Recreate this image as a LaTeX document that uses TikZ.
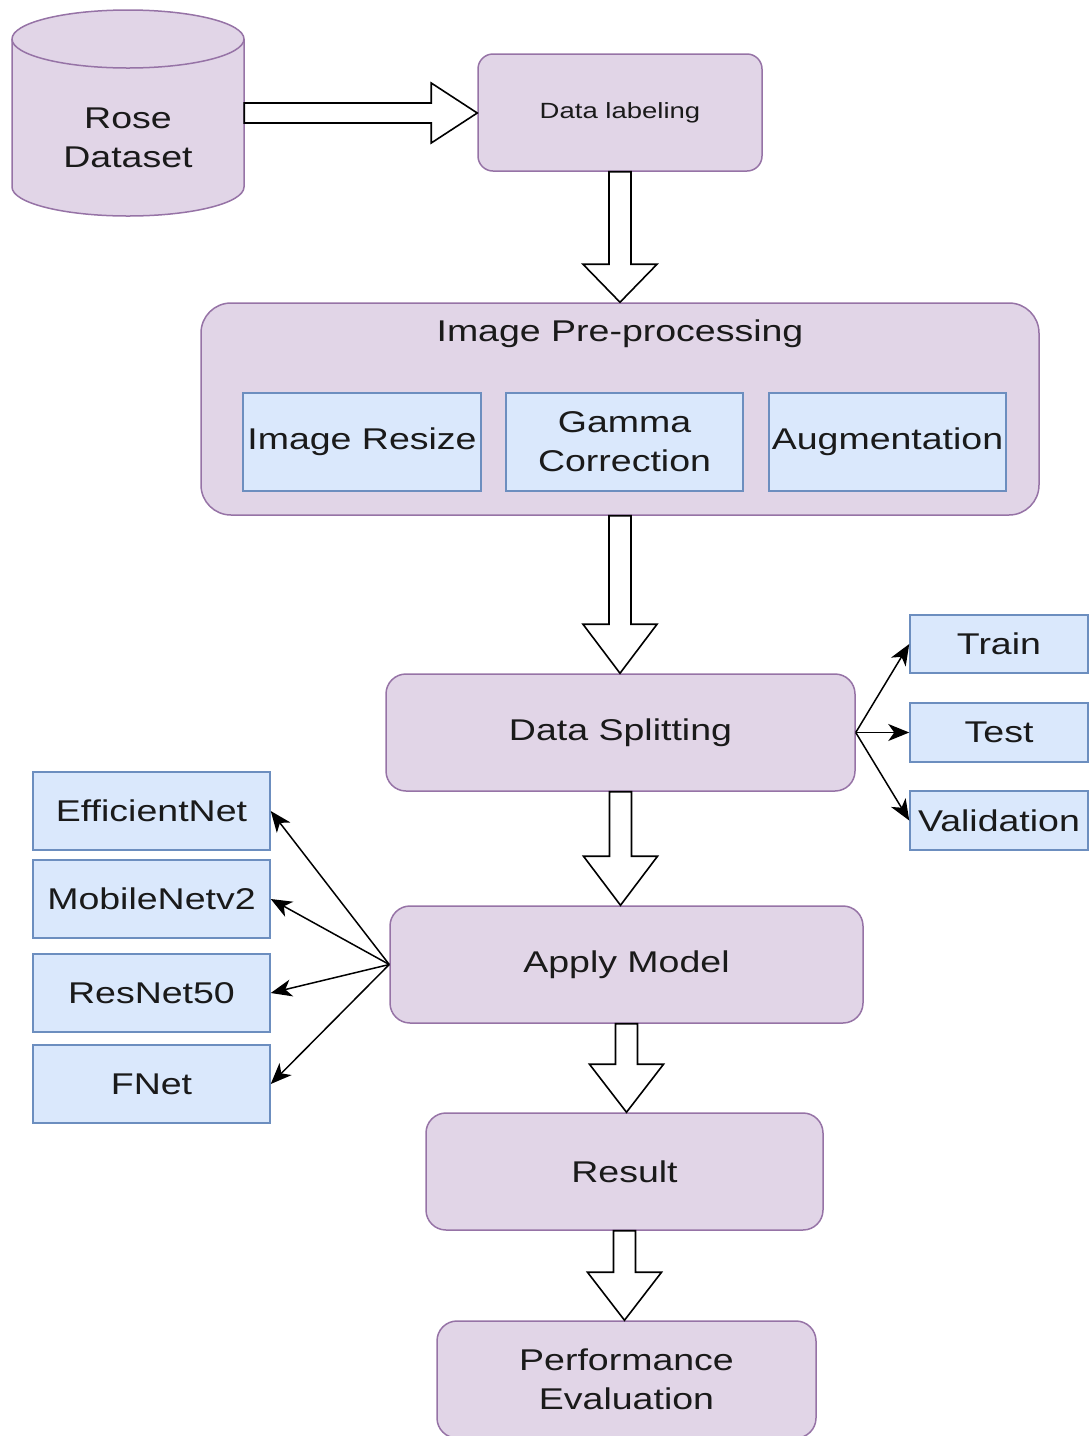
\documentclass[tikz,border=0pt]{standalone}
\usepackage{fontspec}
\setmainfont{Liberation Sans}[FakeStretch=1.25]
\usetikzlibrary{arrows.meta,calc}
\definecolor{pfill}{HTML}{E1D5E7}
\definecolor{pline}{HTML}{9673A6}
\definecolor{bfill}{HTML}{DAE8FC}
\definecolor{bline}{HTML}{6C8EBF}
\definecolor{txt}{HTML}{1A1A1A}
\newcommand\vblock[3]{%
  \draw[blk] let \p1=(#1.south), \p2=(#2.north) in
    (\x1-11pt,\y1) -- (\x1-11pt,\y2+#3pt) -- (\x1-37pt,\y2+#3pt) -- (\x1,\y2)
    -- (\x1+37pt,\y2+#3pt) -- (\x1+11pt,\y2+#3pt) -- (\x1+11pt,\y1) -- cycle;}
\begin{document}
\begin{tikzpicture}[x=1pt,y=-1pt,
  every node/.style={text=txt,font=\fontsize{30}{39}\selectfont,align=center,inner sep=0pt},
  pbox/.style={draw=pline,fill=pfill,line width=1.5pt,rounded corners=#1},
  pbox/.default=20pt,
  bbox/.style={draw=bline,fill=bfill,line width=1.5pt},
  blk/.style={draw=black,fill=white,line width=1.6pt,line join=miter},
  thin/.style={draw=black,line width=1.5pt,-{Stealth[length=21pt,width=17pt,inset=6pt]}}
]
\useasboundingbox (0,0) rectangle (1089,1436);
% cylinder
\node[minimum width=232pt,minimum height=206pt] (rose) at (128,113) {};
\path[draw=pline,fill=pfill,line width=1.5pt]
  (12,39) -- (12,187) arc[start angle=180,end angle=360,x radius=116pt,y radius=29pt]
  -- (244,39) arc[start angle=0,end angle=180,x radius=116pt,y radius=29pt] -- cycle;
\draw[pline,line width=1.5pt] (12,39) arc[start angle=180,end angle=360,x radius=116pt,y radius=29pt];
\node (rosetext) at (128,138) {Rose\\Dataset};
% boxes
\node[pbox=15pt,minimum width=284pt,minimum height=117pt,font=\fontsize{22}{28}\selectfont] (lab) at (620,112.5) {Data labeling};
\node[pbox=30pt,minimum width=838pt,minimum height=212pt] (pre) at (620,409) {};
\node (pretitle) at (620,334) {Image Pre-processing};
\node[bbox,minimum width=238pt,minimum height=98pt] (resize) at (362,442) {Image Resize};
\node[bbox,minimum width=237pt,minimum height=98pt] (gamma) at (624.5,442) {Gamma\\Correction};
\node[bbox,minimum width=237pt,minimum height=98pt] (aug) at (887.5,442) {Augmentation};
\node[pbox,minimum width=469pt,minimum height=117pt] (ds) at (620.5,732.5) {Data Splitting};
\node[bbox,minimum width=178pt,minimum height=58pt] (train) at (999,644) {Train};
\node[bbox,minimum width=178pt,minimum height=59pt] (test) at (999,732.5) {Test};
\node[bbox,minimum width=178pt,minimum height=59pt] (val) at (999,820.5) {Validation};
\node[pbox,minimum width=473pt,minimum height=117pt] (am) at (626.5,964.5) {Apply Model};
\node[bbox,minimum width=237pt,minimum height=78pt] (eff) at (151.5,811) {EfficientNet};
\node[bbox,minimum width=237pt,minimum height=78pt] (mob) at (151.5,899) {MobileNetv2};
\node[bbox,minimum width=237pt,minimum height=78pt] (res) at (151.5,993) {ResNet50};
\node[bbox,minimum width=237pt,minimum height=78pt] (fnet) at (151.5,1084) {FNet};
\node[pbox,minimum width=397pt,minimum height=117pt] (result) at (624.5,1171.5) {Result};
\node[pbox,minimum width=379pt,minimum height=117pt] (perf) at (626.5,1379.5) {Performance\\Evaluation};
% block arrows
\draw[blk] let \p1=(rose.east), \p2=(lab.west) in
  (\x1,\y1+10pt) -- (\x2-46pt,\y1+10pt) -- (\x2-46pt,\y1+30pt) -- (\x2,\y1)
  -- (\x2-46pt,\y1-30pt) -- (\x2-46pt,\y1-10pt) -- (\x1,\y1-10pt) -- cycle;
\vblock{lab}{pre}{38}
\vblock{pre}{ds}{49}
\vblock{ds}{am}{49}
\vblock{am}{result}{48}
\vblock{result}{perf}{48}
% thin arrows
\draw[thin] (ds.east) -- (train.west);
\draw[thin] (ds.east) -- (test.west);
\draw[thin] (ds.east) -- (val.west);
\draw[thin] (am.west) -- (eff.east);
\draw[thin] (am.west) -- (mob.east);
\draw[thin] (am.west) -- (res.east);
\draw[thin] (am.west) -- (fnet.east);
\end{tikzpicture}
\end{document}
